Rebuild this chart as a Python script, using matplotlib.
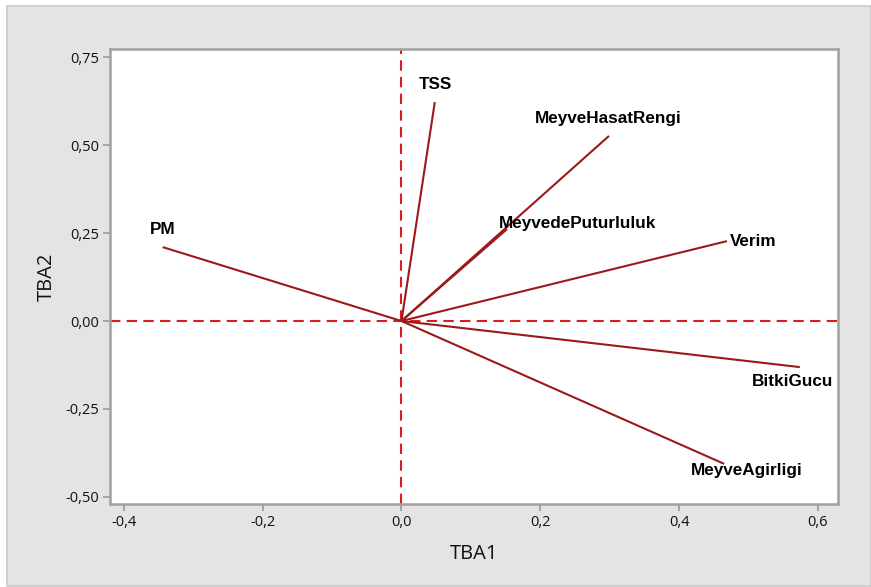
import matplotlib
matplotlib.use("Agg")
import matplotlib.pyplot as plt
from matplotlib.patches import Rectangle

# Loadings (TBA1, TBA2)
variables = ["TSS", "MeyveHasatRengi", "MeyvedePuturluluk", "PM", "Verim", "BitkiGucu", "MeyveAgirligi"]
tba1 = [0.048, 0.299, 0.152, -0.344, 0.469, 0.574, 0.465]
tba2 = [0.622, 0.526, 0.261, 0.210, 0.227, -0.131, -0.406]

xticks = [-0.4, -0.2, 0.0, 0.2, 0.4, 0.6]
xticklabels = ["-0,4", "-0,2", "0,0", "0,2", "0,4", "0,6"]
yticks = [-0.50, -0.25, 0.00, 0.25, 0.50, 0.75]
yticklabels = ["-0,50", "-0,25", "0,00", "0,25", "0,50", "0,75"]

# label offsets in pixels (dx, dy) relative to vector end
label_offsets = [(1, 18), (-1, 17), (71, 6), (0, 18), (26, 0), (-7, -14), (23, -7)]

W, H = 871, 587
fig = plt.figure(figsize=(W / 100, H / 100), dpi=100, facecolor="white")
fig.patches.append(Rectangle((7 / W, 1 / H), (W - 7) / W, (H - 7) / H,
                             transform=fig.transFigure, facecolor="#e4e4e4",
                             edgecolor="#c9c9c9", linewidth=1.2, zorder=-10))

ax = fig.add_axes([110 / W, 1 - 504 / H, (838 - 110) / W, (504 - 49) / H])
ax.set_facecolor("white")
ax.set_xlim(-0.42, 0.629)
ax.set_ylim(-0.520, 0.773)

ax.axhline(0, color="#d81e1e", lw=1.5, ls=(0, (5, 3)), zorder=1)
ax.axvline(0, color="#d81e1e", lw=1.5, ls=(0, (5, 3)), zorder=1)

for name, x, y, off in zip(variables, tba1, tba2, label_offsets):
    ax.plot([0, x], [0, y], color="#9a1a1a", lw=1.5, zorder=2, solid_capstyle="butt")
    ax.annotate(name, xy=(x, y), xytext=off, textcoords="offset pixels",
                ha="center", va="center", fontsize=12.3, fontweight="bold",
                family="Liberation Sans", color="black", zorder=3)

ax.set_xticks(xticks)
ax.set_xticklabels(xticklabels)
ax.set_yticks(yticks)
ax.set_yticklabels(yticklabels)
ax.tick_params(axis="both", direction="out", length=5, width=1.2, color="#9a9a9a",
               labelsize=10.5, labelcolor="#111111", pad=3)
for lab in ax.get_xticklabels() + ax.get_yticklabels():
    lab.set_family("Open Sans")

for s in ax.spines.values():
    s.set_color("#a0a0a0")
    s.set_linewidth(1.8)

ax.set_xlabel("TBA1", fontsize=14.5, family="Open Sans", color="#111111", labelpad=10)
ax.set_ylabel("TBA2", fontsize=14.5, family="Open Sans", color="#111111", labelpad=6)

fig.savefig("out.png", dpi=100, facecolor="white")
